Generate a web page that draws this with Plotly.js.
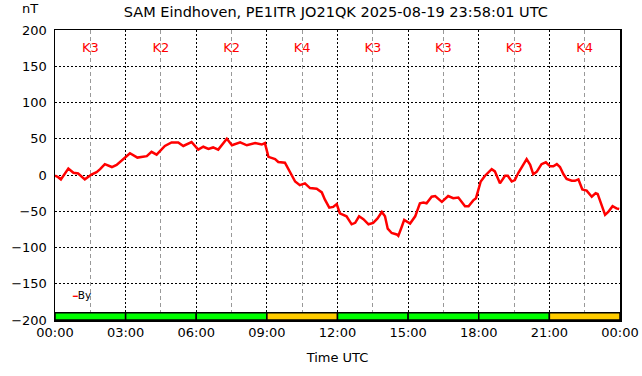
<!DOCTYPE html>
<html>
<head>
<meta charset="utf-8">
<script src="https://cdn.plot.ly/plotly-3.0.1.min.js"></script>
<style>html,body{margin:0;padding:0;background:#fff;}#chart{width:642px;height:376px;}</style>
</head>
<body>
<div id="chart"></div>
<script>
// Minutes after 2025-08-19 00:00 UTC
const byMinutes = [0,8,15,23,34,47,59,76,94,106,115,127,145,157,174,191,210,234,246,259,280,297,314,327,348,365,378,391,403,416,438,451,472,489,510,527,535,540,544,561,569,586,603,612,624,637,650,667,680,688,699,709,718,726,743,756,765,775,786,799,811,822,833,841,848,858,871,875,884,890,905,918,930,939,947,960,969,986,1002,1015,1028,1045,1054,1066,1073,1079,1085,1096,1113,1121,1134,1147,1154,1164,1172,1181,1193,1202,1211,1219,1228,1240,1251,1262,1270,1279,1287,1296,1304,1317,1325,1334,1344,1355,1368,1378,1383,1392,1402,1410,1421,1431,1438];
// By component in nT
const byValues = [-1,-3,-6,0,9,3,2,-6,1,4,8,15,11,14,22,30,24,26,32,28,40,45,45,40,45.5,35,39,36,38,35,50,41,45,41,44,42,44,35,25,22,18,17,0,-9,-14,-11.5,-18,-19,-24,-34,-45,-44,-40,-53,-57,-68,-66,-57,-61,-68,-66,-60,-51,-57,-74,-80,-82,-84,-71,-62,-67,-57,-39,-38,-39,-30,-29,-37,-29,-32,-31,-43,-43,-35,-32,-21,-9,-1,8,5,-11.5,-1,-1,-9,-7,3,14,22,14,1,4.6,15,17.5,12,12,15,11,1,-5.5,-8,-8,-6,-20,-21.6,-30,-25,-26,-41,-55,-51,-43,-46,-47];
// 3-hourly K index
const kPeriodStart = ["00:00","03:00","06:00","09:00","12:00","15:00","18:00","21:00"];
const kValues = [3,2,2,4,3,3,3,4];

const DAY = "2025-08-19";
function pad(n){return (n<10?"0":"")+n;}
function minToDate(m){return DAY+" "+pad(Math.floor(m/60))+":"+pad(Math.round(m%60));}
const byTimes = byMinutes.map(minToDate);
const kMid = kPeriodStart.map(s=>{const p=s.split(":");return minToDate(parseInt(p[0])*60+parseInt(p[1])+90);});
const kColors = kValues.map(k=>k>=4?"#ffcc00":"#00ff00");
const kText = kValues.map(k=>"K"+k);
const H3 = 3*3600*1000;
const xRange = [DAY+" 00:00","2025-08-20 00:00"];

const font = "DejaVu Sans, sans-serif";
const traces = [
  {type:"bar", x:kMid, y:kValues.map(()=>10), base:-200, width:kValues.map(()=>H3),
   marker:{color:kColors, line:{color:"#000", width:1.5}}, showlegend:false, hoverinfo:"skip"},
  {type:"scatter", mode:"text", x:kMid, y:kValues.map(()=>174), text:kText,
   textfont:{color:"#ff0000", size:13, family:font}, showlegend:false, hoverinfo:"skip"},
  {type:"scatter", mode:"lines", name:"By", x:byTimes, y:byValues,
   line:{color:"#ff0000", width:2.5}, showlegend:false}
];
const layout = {
  width:642, height:376,
  margin:{l:55, r:22, t:30, b:56, pad:0},
  paper_bgcolor:"#fff", plot_bgcolor:"#fff",
  font:{family:font, size:13, color:"#000"},
  title:{text:"SAM Eindhoven, PE1ITR JO21QK 2025-08-19 23:58:01 UTC", x:0.523, xanchor:"center", y:0.968, yanchor:"middle", font:{size:14.5, family:font}},
  bargap:0,
  xaxis:{type:"date", range:xRange, tickmode:"linear", tick0:DAY+" 00:00", dtick:H3, tickformat:"%H:%M",
    showgrid:true, gridcolor:"#000", griddash:"2px,2px", gridwidth:1,
    minor:{dtick:H3/2, tick0:DAY+" 00:00", showgrid:true, gridcolor:"#999", griddash:"4px,3px", gridwidth:1},
    showline:true, mirror:true, linecolor:"#000", linewidth:1.5, ticks:"", zeroline:false,
    tickfont:{size:13}, title:{text:"Time UTC", font:{size:13}, standoff:14}},
  yaxis:{range:[-200,200], dtick:50, tick0:0, showgrid:true, gridcolor:"#000", griddash:"2px,2px", gridwidth:1,
    showline:true, mirror:true, linecolor:"#000", linewidth:1.5, ticks:"", zeroline:false,
    tickfont:{size:13}, ticklabelstandoff:4},
  annotations:[
    {text:"nT", xref:"paper", yref:"paper", x:-0.045, y:1.04, xanchor:"center", yanchor:"bottom", showarrow:false, font:{size:13}},
    {text:"<span style='color:#ff0000;font-size:8px'>━</span>By", xref:"paper", yref:"paper", x:0.026, y:0.085, xanchor:"left", yanchor:"middle", showarrow:false, font:{size:10.5}}
  ]
};
Plotly.newPlot("chart", traces, layout, {staticPlot:true, displayModeBar:false});
</script>
</body>
</html>
